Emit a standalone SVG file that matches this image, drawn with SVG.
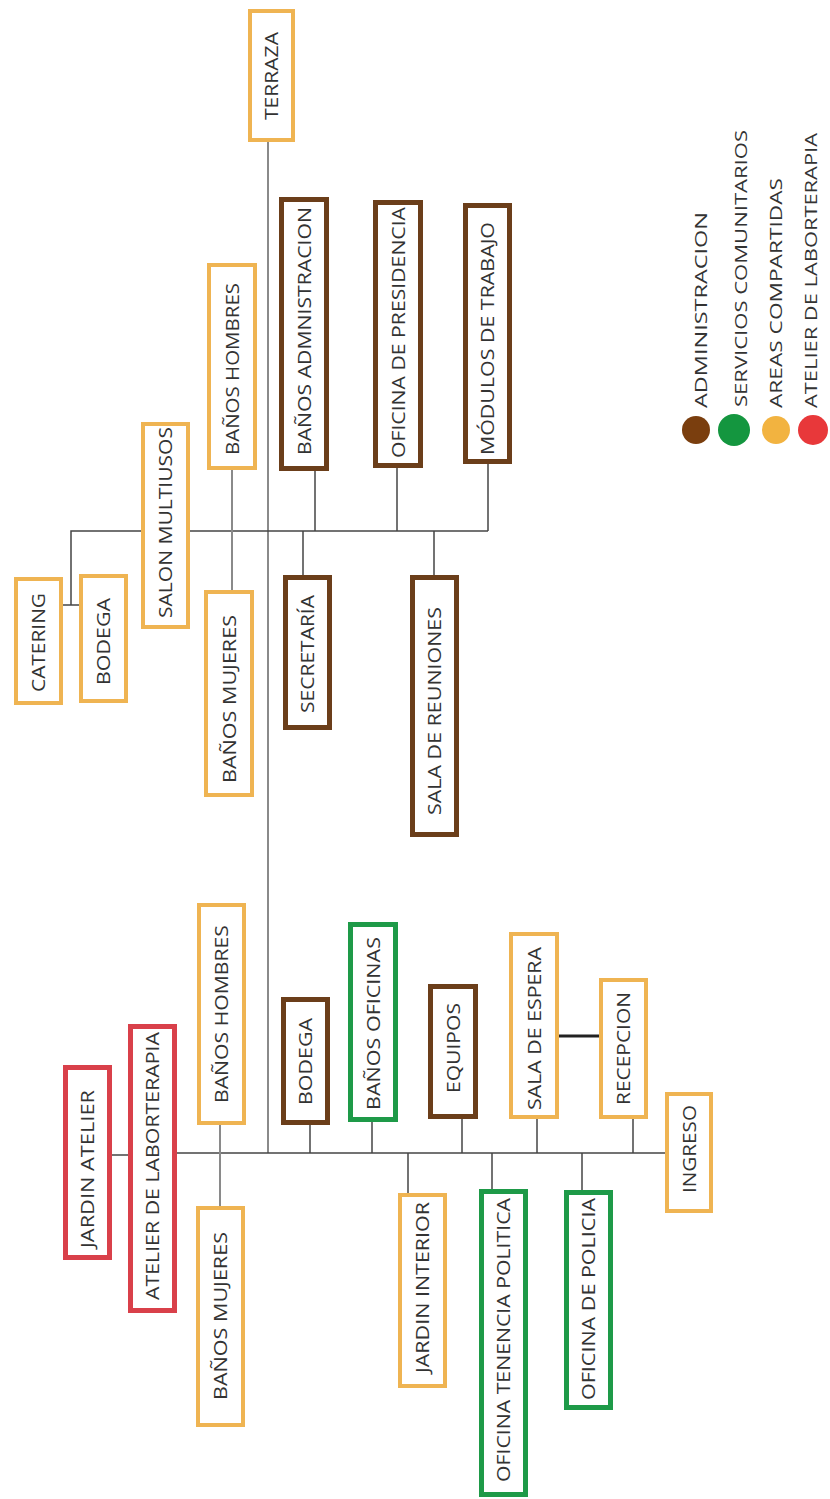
<svg xmlns="http://www.w3.org/2000/svg" width="830" height="1499" viewBox="0 0 830 1499">
<style>
.box{fill:#fff}
.or{stroke:#EFB452;stroke-width:4}
.br{stroke:#6B3E1A;stroke-width:5}
.gr{stroke:#1E9A48;stroke-width:5}
.rd{stroke:#D9404A;stroke-width:5}
.lbl{font-family:"Open Sans","Liberation Sans",sans-serif;font-size:18px;fill:#333;text-anchor:middle}
.leg{font-family:"Open Sans","Liberation Sans",sans-serif;font-size:16px;fill:#333;text-anchor:start}
.c{stroke:#444;stroke-width:1.5;fill:none}
.cg{stroke:#8a8a8a;stroke-width:2;fill:none}
.ck{stroke:#222;stroke-width:3;fill:none}
</style>
<rect width="830" height="1499" fill="#fff"/>
<g id="connectors">
<line class="cg" x1="268" y1="142" x2="268" y2="1153"/>
<polyline class="c" points="141,531 71,531 71,605"/>
<line class="c" x1="63" y1="605" x2="79" y2="605"/>
<line class="c" x1="190" y1="531" x2="488" y2="531"/>
<line class="c" x1="315" y1="471" x2="315" y2="531"/>
<line class="c" x1="397" y1="468" x2="397" y2="531"/>
<line class="c" x1="488" y1="464" x2="488" y2="531"/>
<line class="c" x1="303" y1="531" x2="303" y2="575"/>
<line class="c" x1="434" y1="531" x2="434" y2="575"/>
<line class="cg" x1="232" y1="470" x2="232" y2="590"/>
<line class="c" x1="177" y1="1153" x2="665" y2="1153"/>
<line class="c" x1="112" y1="1155" x2="128" y2="1155"/>
<line class="cg" x1="220" y1="1125" x2="220" y2="1206"/>
<line class="c" x1="310" y1="1125" x2="310" y2="1153"/>
<line class="c" x1="372" y1="1122" x2="372" y2="1153"/>
<line class="c" x1="462" y1="1119" x2="462" y2="1153"/>
<line class="c" x1="537" y1="1119" x2="537" y2="1153"/>
<line class="c" x1="633" y1="1119" x2="633" y2="1153"/>
<line class="c" x1="408" y1="1153" x2="408" y2="1193"/>
<line class="c" x1="492" y1="1153" x2="492" y2="1189"/>
<line class="c" x1="582" y1="1153" x2="582" y2="1190"/>
<line class="ck" x1="559" y1="1036" x2="599" y2="1036"/>
</g>
<g id="terraza"><rect class="box or" x="250" y="11" width="43" height="129"/><text class="lbl" transform="translate(278,76) rotate(-90)" textLength="88" lengthAdjust="spacingAndGlyphs">TERRAZA</text></g>
<g id="banos-hombres-top"><rect class="box or" x="209" y="265" width="46" height="203"/><text class="lbl" transform="translate(238.5,369) rotate(-90)" textLength="172" lengthAdjust="spacingAndGlyphs">BAÑOS HOMBRES</text></g>
<g id="banos-administracion"><rect class="box br" x="281.5" y="199.5" width="45" height="269"/><text class="lbl" transform="translate(310.5,331) rotate(-90)" textLength="248" lengthAdjust="spacingAndGlyphs">BAÑOS ADMNISTRACION</text></g>
<g id="oficina-presidencia"><rect class="box br" x="375.5" y="202.5" width="45" height="263"/><text class="lbl" transform="translate(404.5,332.5) rotate(-90)" textLength="251" lengthAdjust="spacingAndGlyphs">OFICINA DE PRESIDENCIA</text></g>
<g id="modulos-trabajo"><rect class="box br" x="465.5" y="205.5" width="44" height="256"/><text class="lbl" transform="translate(494,338.5) rotate(-90)" textLength="233" lengthAdjust="spacingAndGlyphs">MÓDULOS DE TRABAJO</text></g>
<g id="salon-multiusos"><rect class="box or" x="143" y="424" width="45" height="203"/><text class="lbl" transform="translate(172,522.5) rotate(-90)" textLength="191" lengthAdjust="spacingAndGlyphs">SALON MULTIUSOS</text></g>
<g id="catering"><rect class="box or" x="16" y="579" width="45" height="124"/><text class="lbl" transform="translate(45,642.5) rotate(-90)" textLength="99" lengthAdjust="spacingAndGlyphs">CATERING</text></g>
<g id="bodega-top"><rect class="box or" x="81" y="576" width="45" height="125"/><text class="lbl" transform="translate(110,641.5) rotate(-90)" textLength="87" lengthAdjust="spacingAndGlyphs">BODEGA</text></g>
<g id="banos-mujeres-top"><rect class="box or" x="206" y="592" width="46" height="203"/><text class="lbl" transform="translate(235.5,699) rotate(-90)" textLength="168" lengthAdjust="spacingAndGlyphs">BAÑOS MUJERES</text></g>
<g id="secretaria"><rect class="box br" x="285.5" y="577.5" width="44" height="150"/><text class="lbl" transform="translate(314,654) rotate(-90)" textLength="118" lengthAdjust="spacingAndGlyphs">SECRETARÍA</text></g>
<g id="sala-reuniones"><rect class="box br" x="412.5" y="577.5" width="44" height="257"/><text class="lbl" transform="translate(441,711) rotate(-90)" textLength="208" lengthAdjust="spacingAndGlyphs">SALA DE REUNIONES</text></g>
<g id="banos-hombres-bottom"><rect class="box or" x="199" y="905" width="45" height="218"/><text class="lbl" transform="translate(228,1014) rotate(-90)" textLength="178" lengthAdjust="spacingAndGlyphs">BAÑOS HOMBRES</text></g>
<g id="atelier-laborterapia"><rect class="box rd" x="130.5" y="1026.5" width="44" height="284"/><text class="lbl" transform="translate(159,1166) rotate(-90)" textLength="268" lengthAdjust="spacingAndGlyphs">ATELIER DE LABORTERAPIA</text></g>
<g id="jardin-atelier"><rect class="box rd" x="65.5" y="1067.5" width="44" height="190"/><text class="lbl" transform="translate(94,1169) rotate(-90)" textLength="158" lengthAdjust="spacingAndGlyphs">JARDIN ATELIER</text></g>
<g id="banos-mujeres-bottom"><rect class="box or" x="198" y="1208" width="45" height="217"/><text class="lbl" transform="translate(227,1316) rotate(-90)" textLength="168" lengthAdjust="spacingAndGlyphs">BAÑOS MUJERES</text></g>
<g id="bodega-bottom"><rect class="box br" x="283.5" y="999.5" width="44" height="123"/><text class="lbl" transform="translate(312,1061.5) rotate(-90)" textLength="87" lengthAdjust="spacingAndGlyphs">BODEGA</text></g>
<g id="banos-oficinas"><rect class="box gr" x="350.5" y="924.5" width="45" height="195"/><text class="lbl" transform="translate(379.5,1023.5) rotate(-90)" textLength="173" lengthAdjust="spacingAndGlyphs">BAÑOS OFICINAS</text></g>
<g id="equipos"><rect class="box br" x="430.5" y="986.5" width="45" height="130"/><text class="lbl" transform="translate(459.5,1048) rotate(-90)" textLength="90" lengthAdjust="spacingAndGlyphs">EQUIPOS</text></g>
<g id="sala-espera"><rect class="box or" x="511" y="934" width="46" height="183"/><text class="lbl" transform="translate(540.5,1028.5) rotate(-90)" textLength="163" lengthAdjust="spacingAndGlyphs">SALA DE ESPERA</text></g>
<g id="recepcion"><rect class="box or" x="601" y="980" width="45" height="137"/><text class="lbl" transform="translate(630,1048.5) rotate(-90)" textLength="113" lengthAdjust="spacingAndGlyphs">RECEPCION</text></g>
<g id="ingreso"><rect class="box or" x="667" y="1094" width="44" height="117"/><text class="lbl" transform="translate(695.5,1149) rotate(-90)" textLength="88" lengthAdjust="spacingAndGlyphs">INGRESO</text></g>
<g id="jardin-interior"><rect class="box or" x="400" y="1195" width="45" height="191"/><text class="lbl" transform="translate(429,1287.5) rotate(-90)" textLength="171" lengthAdjust="spacingAndGlyphs">JARDIN INTERIOR</text></g>
<g id="oficina-tenencia"><rect class="box gr" x="481.5" y="1191.5" width="44" height="303"/><text class="lbl" transform="translate(510,1340) rotate(-90)" textLength="284" lengthAdjust="spacingAndGlyphs">OFICINA TENENCIA POLITICA</text></g>
<g id="oficina-policia"><rect class="box gr" x="566.5" y="1192.5" width="44" height="215"/><text class="lbl" transform="translate(595,1299) rotate(-90)" textLength="202" lengthAdjust="spacingAndGlyphs">OFICINA DE POLICIA</text></g>
<g id="legend">
<circle cx="696" cy="430" r="14" fill="#7A3E0E"/>
<circle cx="734" cy="430" r="16" fill="#14963F"/>
<circle cx="776" cy="430" r="14" fill="#F2B340"/>
<circle cx="813" cy="430" r="15" fill="#E8383A"/>
<text class="leg" transform="translate(707,408) rotate(-90)" textLength="196" lengthAdjust="spacingAndGlyphs">ADMINISTRACION</text>
<text class="leg" transform="translate(747,407) rotate(-90)" textLength="277" lengthAdjust="spacingAndGlyphs">SERVICIOS COMUNITARIOS</text>
<text class="leg" transform="translate(782,408) rotate(-90)" textLength="230" lengthAdjust="spacingAndGlyphs">AREAS COMPARTIDAS</text>
<text class="leg" transform="translate(817,408) rotate(-90)" textLength="275" lengthAdjust="spacingAndGlyphs">ATELIER DE LABORTERAPIA</text>
</g>
</svg>
